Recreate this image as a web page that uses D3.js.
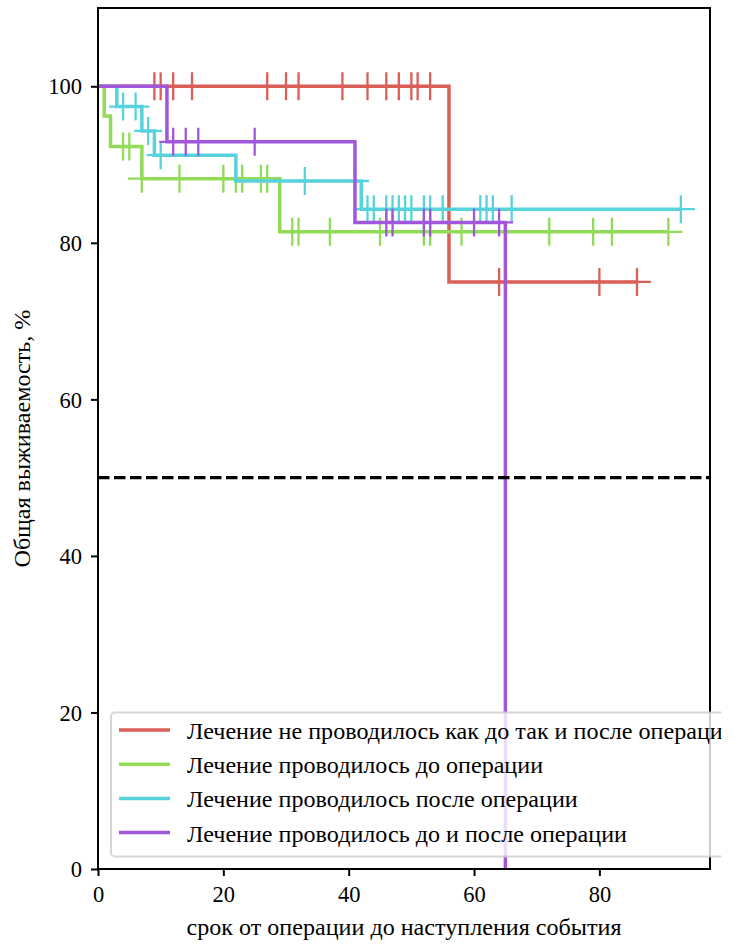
<!DOCTYPE html>
<html>
<head>
<meta charset="utf-8">
<script src="https://cdn.jsdelivr.net/npm/d3@7"></script>
<style>
  html, body { margin: 0; padding: 0; background: #fff; }
  svg { display: block; }
  text { font-family: "Liberation Serif", "Times New Roman", serif; fill: #000; }
</style>
</head>
<body>
<svg id="chart" width="742" height="944"></svg>
<script>
// Kaplan–Meier survival by treatment group
const groupLabels = [
  "Лечение не проводилось как до так и после операции",
  "Лечение проводилось до операции",
  "Лечение проводилось после операции",
  "Лечение проводилось до и после операции"
];

// step times (start of each level) and survival levels, %
const noTreatTimes = [0, 56];
const noTreatSurv = [100, 75];
const noTreatCensored = [9, 10, 12, 15, 27, 30, 32, 39, 43, 46, 48, 50, 51, 53, 64, 80, 86];

const beforeTimes = [0, 1, 2, 7, 29];
const beforeSurv = [100, 96.2, 92.3, 88.2, 81.4];
const beforeCensored = [4, 5, 7, 13, 20, 22, 23, 26, 27, 31, 32, 37, 45, 52, 53, 58, 72, 79, 82, 91];

const afterTimes = [0, 3, 7, 9, 22, 42];
const afterSurv = [100, 97.4, 94.3, 91.2, 87.9, 84.3];
const afterCensored = [4, 6, 8, 10, 33, 41, 43, 44, 46, 47, 48, 49, 50, 52, 53, 55, 61, 62, 63, 66, 93];

const bothTimes = [0, 11, 41, 65];
const bothSurv = [100, 92.9, 82.6, 0];
const bothCensored = [12, 14, 16, 25, 46, 47, 52, 53, 60, 64];

const xTicks = [0, 20, 40, 60, 80];
const yTicks = [0, 20, 40, 60, 80, 100];
const medianLine = 50;

const palette = ["#db5f57", "#91db57", "#57d3db", "#a157db"];

const groups = [
  { times: noTreatTimes, surv: noTreatSurv, cens: noTreatCensored },
  { times: beforeTimes, surv: beforeSurv, cens: beforeCensored },
  { times: afterTimes, surv: afterSurv, cens: afterCensored },
  { times: bothTimes, surv: bothSurv, cens: bothCensored }
];

const W = 742, H = 944;
const plot = { left: 98, right: 710, top: 8, bottom: 869 };
const FS = 24.1;

const svg = d3.select("#chart");
svg.append("defs").append("clipPath").attr("id", "figclip")
  .append("rect").attr("x", 0).attr("y", 0).attr("width", 721.5).attr("height", H);
const root = svg.append("g").attr("clip-path", "url(#figclip)");

const x = d3.scaleLinear().domain([0, 97.65]).range([plot.left, plot.right]);
const y = d3.scaleLinear().domain([0, 110]).range([plot.bottom, plot.top]);

// survival value at time t (right-continuous step)
function survAt(g, t) {
  const i = d3.bisectRight(g.times, t) - 1;
  return g.surv[Math.max(0, i)];
}

const stepLine = d3.line()
  .x(d => x(d[0]))
  .y(d => y(d[1]))
  .curve(d3.curveStepAfter);

const ARM = 14;
groups.forEach((g, k) => {
  const tEnd = Math.max(d3.max(g.cens), d3.max(g.times));
  const pts = g.times.map((t, i) => [t, g.surv[i]]);
  pts.push([tEnd, g.surv[g.surv.length - 1]]);
  root.append("path")
    .attr("d", stepLine(pts))
    .attr("fill", "none")
    .attr("stroke", palette[k])
    .attr("stroke-width", 3.5)
    .attr("stroke-linejoin", "miter");
  const marks = root.append("g").attr("stroke", palette[k]).attr("stroke-width", 2.3);
  g.cens.forEach(t => {
    const cx = x(t), cy = y(survAt(g, t));
    marks.append("path")
      .attr("d", `M${cx - ARM},${cy}H${cx + ARM}M${cx},${cy - ARM}V${cy + ARM}`)
      .attr("fill", "none");
  });
});

// median reference line
root.append("line")
  .attr("x1", plot.left).attr("x2", plot.right)
  .attr("y1", y(medianLine)).attr("y2", y(medianLine))
  .attr("stroke", "#000").attr("stroke-width", 3.2)
  .attr("stroke-dasharray", "11.5,4.5");

// frame
root.append("rect")
  .attr("x", plot.left).attr("y", plot.top)
  .attr("width", plot.right - plot.left).attr("height", plot.bottom - plot.top)
  .attr("fill", "none").attr("stroke", "#000").attr("stroke-width", 2);

// axes
const xAxis = d3.axisBottom(x).tickValues(xTicks).tickSize(7).tickPadding(6).tickFormat(d3.format("d"));
const yAxis = d3.axisLeft(y).tickValues(yTicks).tickSize(7).tickPadding(9).tickFormat(d3.format("d"));

const gx = root.append("g").attr("transform", `translate(0,${plot.bottom})`).call(xAxis);
const gy = root.append("g").attr("transform", `translate(${plot.left},0)`).call(yAxis);
[gx, gy].forEach(g => {
  g.select(".domain").remove();
  g.selectAll(".tick line").attr("stroke", "#000").attr("stroke-width", 2);
  g.selectAll(".tick text")
    .style("font-family", "'Liberation Serif', serif")
    .attr("font-size", 22.5).attr("fill", "#000");
});
gx.selectAll(".tick text").attr("dy", null).attr("y", 33);
gy.selectAll(".tick text").attr("dy", "0.34em");

root.append("text")
  .attr("x", (plot.left + plot.right) / 2).attr("y", 935)
  .attr("text-anchor", "middle").attr("font-size", FS)
  .text("срок от операции до наступления события");

root.append("text")
  .attr("transform", `translate(30,${(plot.top + plot.bottom) / 2}) rotate(-90)`)
  .attr("text-anchor", "middle").attr("font-size", FS)
  .text("Общая выживаемость, %");

// legend
const leg = root.append("g");
leg.append("rect")
  .attr("x", 111).attr("y", 712.5).attr("width", 640).attr("height", 144)
  .attr("rx", 4).attr("ry", 4)
  .attr("fill", "rgba(255,255,255,0.8)")
  .attr("stroke", "rgba(204,204,204,0.8)").attr("stroke-width", 2);
groupLabels.forEach((lab, k) => {
  const cy = 730 + k * 34.2;
  leg.append("line")
    .attr("x1", 119).attr("x2", 170).attr("y1", cy).attr("y2", cy)
    .attr("stroke", palette[k]).attr("stroke-width", 3.5);
  leg.append("text")
    .attr("x", 187).attr("y", cy + 9)
    .attr("font-size", FS)
    .text(lab);
});
</script>
</body>
</html>
